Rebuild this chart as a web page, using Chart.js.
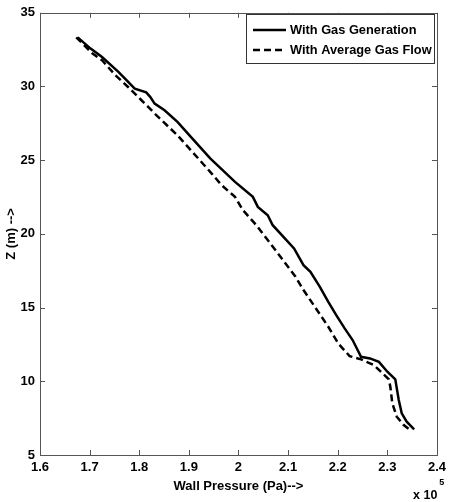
<!DOCTYPE html>
<html>
<head>
<meta charset="utf-8">
<script src="https://cdn.jsdelivr.net/npm/chart.js@4/dist/chart.umd.min.js"></script>
<style>
  html, body { margin: 0; padding: 0; background: #fff; }
  #wrap { width: 451px; height: 502px; position: relative; }
</style>
</head>
<body>
<div id="wrap"><canvas id="c" width="451" height="502"></canvas></div>
<script>
// Wall pressure in units of 10^5 Pa, height Z in m
const seriesLabels = ["With Gas Generation", "With Average Gas Flow"];

const gasGenPressure = [1.676, 1.702, 1.725, 1.758, 1.791, 1.814, 1.822, 1.831, 1.851, 1.877, 1.904, 1.943, 1.993, 2.029, 2.039, 2.059, 2.069, 2.112, 2.131, 2.145, 2.164, 2.181, 2.197, 2.214, 2.230, 2.247, 2.265, 2.283, 2.300, 2.316, 2.323, 2.329, 2.339, 2.354];
const gasGenZ        = [33.33, 32.57, 32.00, 30.99, 29.86, 29.60, 29.30, 28.84, 28.39, 27.60, 26.58, 25.12, 23.53, 22.51, 21.83, 21.27, 20.59, 19.01, 17.88, 17.43, 16.41, 15.39, 14.49, 13.59, 12.80, 11.66, 11.55, 11.32, 10.65, 10.13, 8.73, 7.83, 7.26, 6.74];

const avgFlowPressure = [1.673, 1.706, 1.725, 1.752, 1.778, 1.805, 1.818, 1.838, 1.877, 1.904, 1.943, 1.966, 1.993, 2.009, 2.036, 2.072, 2.115, 2.131, 2.154, 2.181, 2.201, 2.224, 2.247, 2.273, 2.303, 2.306, 2.310, 2.319, 2.333, 2.346];
const avgFlowZ        = [33.34, 32.23, 31.78, 30.76, 29.95, 29.05, 28.61, 27.94, 26.69, 25.68, 24.21, 23.31, 22.51, 21.61, 20.59, 19.01, 17.09, 16.19, 15.05, 13.70, 12.57, 11.71, 11.49, 11.10, 10.13, 9.63, 8.51, 7.60, 7.03, 6.69];

const xTickValues = [1.6, 1.7, 1.8, 1.9, 2.0, 2.1, 2.2, 2.3, 2.4];
const yTickValues = [5, 10, 15, 20, 25, 30, 35];
const xTitle = "Wall Pressure (Pa)-->";
const yTitle = "Z (m) -->";
const xExponentBase = "x 10";
const xExponent = "5";

const FONT = "'Liberation Sans', Arial, sans-serif";
const FONT_SPEC = { family: FONT, size: 13, weight: 'bold' };

function pts(xs, ys) { return xs.map((x, i) => ({ x: x, y: ys[i] })); }

const framePlugin = {
  id: 'frame',
  afterDraw(chart) {
    const { ctx, chartArea: a, scales } = chart;
    ctx.save();
    ctx.strokeStyle = '#555';
    ctx.lineWidth = 1;
    ctx.strokeRect(Math.round(a.left) + 0.5, Math.round(a.top) + 0.5, Math.round(a.right - a.left), Math.round(a.bottom - a.top));
    const tl = 5;
    ctx.beginPath();
    xTickValues.forEach(v => {
      const px = Math.round(scales.x.getPixelForValue(v)) + 0.5;
      ctx.moveTo(px, a.bottom); ctx.lineTo(px, a.bottom - tl);
      ctx.moveTo(px, a.top); ctx.lineTo(px, a.top + tl);
    });
    yTickValues.forEach(v => {
      const py = Math.round(scales.y.getPixelForValue(v)) + 0.5;
      ctx.moveTo(a.left, py); ctx.lineTo(a.left + tl, py);
      ctx.moveTo(a.right, py); ctx.lineTo(a.right - tl, py);
    });
    ctx.stroke();

    // exponent label
    ctx.fillStyle = '#000';
    ctx.textBaseline = 'alphabetic';
    ctx.textAlign = 'left';
    ctx.font = 'bold 12.5px ' + FONT;
    ctx.fillText(xExponentBase, 413, 499);
    const w = ctx.measureText(xExponentBase).width;
    ctx.font = 'bold 9px ' + FONT;
    ctx.fillText(xExponent, 413 + w + 2, 485);

    // legend
    const lx = 246, ly = 14, lw = 188, lh = 49;
    ctx.fillStyle = '#fff';
    ctx.fillRect(lx, ly, lw, lh);
    ctx.strokeStyle = '#333';
    ctx.lineWidth = 1;
    ctx.strokeRect(lx + 0.5, ly + 0.5, lw, lh);
    chart.data.datasets.forEach((ds, i) => {
      const y = ly + 16 + i * 20;
      ctx.beginPath();
      ctx.strokeStyle = '#000';
      ctx.lineWidth = 2.5;
      ctx.setLineDash(ds.borderDash || []);
      ctx.moveTo(253, y); ctx.lineTo(286, y);
      ctx.stroke();
      ctx.setLineDash([]);
      ctx.fillStyle = '#000';
      ctx.font = 'bold 12.8px ' + FONT;
      ctx.textBaseline = 'middle';
      ctx.fillText(ds.label, 290, y);
    });
    ctx.restore();
  }
};

new Chart(document.getElementById('c'), {
  type: 'scatter',
  data: {
    datasets: [
      { label: seriesLabels[0], data: pts(gasGenPressure, gasGenZ), showLine: true, borderColor: '#000', borderWidth: 2.5, pointRadius: 0, tension: 0, fill: false },
      { label: seriesLabels[1], data: pts(avgFlowPressure, avgFlowZ), showLine: true, borderColor: '#000', borderWidth: 2.5, borderDash: [7, 4], pointRadius: 0, tension: 0, fill: false }
    ]
  },
  options: {
    responsive: false,
    animation: false,
    devicePixelRatio: 1,
    layout: { padding: { top: 12, right: 7, left: 0, bottom: 0 } },
    plugins: { legend: { display: false }, tooltip: { enabled: false } },
    scales: {
      x: {
        type: 'linear', min: 1.6, max: 2.4,
        afterBuildTicks(s) { s.ticks = xTickValues.map(v => ({ value: v })); },
        afterFit(s) { s.height = 47; },
        grid: { display: false, drawTicks: false },
        border: { display: false },
        ticks: { color: '#000', font: FONT_SPEC, padding: 5, maxRotation: 0, autoSkip: false,
          callback: v => String(parseFloat(Number(v).toFixed(1))) },
        title: { display: true, text: xTitle, color: '#000', font: FONT_SPEC, padding: { top: 0, bottom: 8 } }
      },
      y: {
        type: 'linear', min: 5, max: 35,
        afterBuildTicks(s) { s.ticks = yTickValues.map(v => ({ value: v })); },
        afterFit(s) { s.width = 40; },
        grid: { display: false, drawTicks: false },
        border: { display: false },
        ticks: { color: '#000', font: FONT_SPEC, padding: 5, autoSkip: false,
          callback: v => String(v) },
        title: { display: true, text: yTitle, color: '#000', font: FONT_SPEC, padding: { top: 4, bottom: 0 } }
      }
    }
  },
  plugins: [framePlugin]
});
</script>
</body>
</html>
